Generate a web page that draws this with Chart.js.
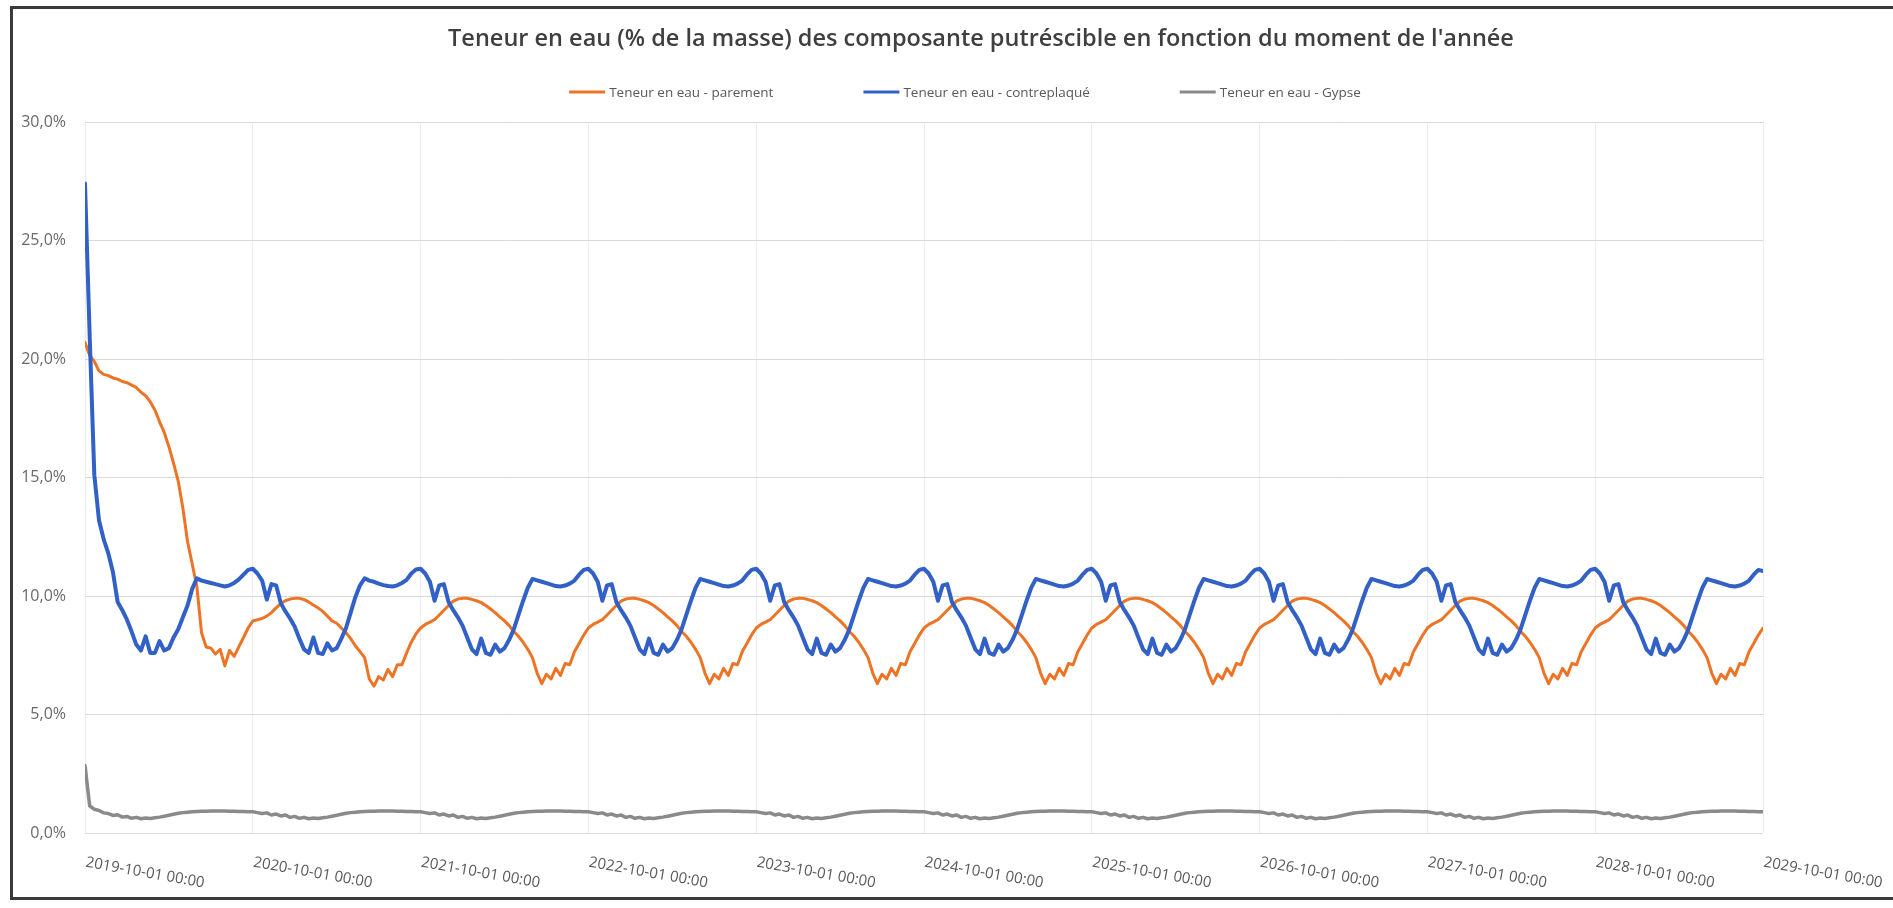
<!DOCTYPE html>
<html lang="fr">
<head>
<meta charset="utf-8">
<title>Teneur en eau des composantes</title>
<script src="https://cdn.jsdelivr.net/npm/chart.js@4.4.1/dist/chart.umd.min.js"></script>
<style>
  html, body { margin: 0; padding: 0; background: #fff; overflow: hidden; }
  #cadre {
    position: absolute; left: 10px; top: 6px; width: 1960px; height: 894px;
    border: 3px solid #3a3a3a; box-sizing: border-box;
  }
  #graphique { position: absolute; left: 0; top: 0; }
</style>
</head>
<body>
<div id="cadre"></div>
<canvas id="graphique" width="1893" height="908"></canvas>
<script>
// 36 relevés par année, du 2019-10-01 au 2029-10-01
const PAS_PAR_AN = 36;

const titre = "Teneur en eau (% de la masse) des composante putréscible en fonction du moment de l'année";
const series = ['Teneur en eau - parement', 'Teneur en eau - contreplaqué', 'Teneur en eau - Gypse'];
const couleurs = ['#EC7424', '#3160C6', '#8A8A8A'];

const etiquettesX = [
  '2019-10-01 00:00', '2020-10-01 00:00', '2021-10-01 00:00', '2022-10-01 00:00',
  '2023-10-01 00:00', '2024-10-01 00:00', '2025-10-01 00:00', '2026-10-01 00:00',
  '2027-10-01 00:00', '2028-10-01 00:00', '2029-10-01 00:00'
];
const etiquettesY = ['0,0%', '5,0%', '10,0%', '15,0%', '20,0%', '25,0%', '30,0%'];

// parement (%), une ligne par année
const parement = [
  20.7, 20.15, 19.9, 19.5, 19.35, 19.3, 19.2, 19.15, 19.05, 19.0, 18.9, 18.8, 18.6, 18.45, 18.2, 17.85, 17.35, 16.9, 16.3, 15.6, 14.85, 13.7, 12.3, 11.35, 10.4, 8.45, 7.85, 7.8, 7.55, 7.75, 7.05, 7.7, 7.45, 7.85, 8.25, 8.65,
  8.95, 9.0, 9.05, 9.15, 9.3, 9.5, 9.68, 9.8, 9.87, 9.9, 9.9, 9.85, 9.75, 9.62, 9.5, 9.35, 9.15, 8.95, 8.85, 8.65, 8.45, 8.2, 7.9, 7.65, 7.4, 6.5, 6.2, 6.6, 6.45, 6.9, 6.6, 7.1, 7.1, 7.6, 8.05, 8.4,
  8.65, 8.8, 8.9, 9.0, 9.2, 9.4, 9.6, 9.78, 9.87, 9.9, 9.9, 9.86, 9.8, 9.72, 9.6, 9.45, 9.3, 9.12, 8.95, 8.75, 8.5, 8.3, 8.05, 7.75, 7.4, 6.75, 6.3, 6.7, 6.5, 6.95, 6.65, 7.15, 7.1, 7.65, 8.0, 8.35,
  8.65, 8.8, 8.9, 9.0, 9.2, 9.4, 9.6, 9.78, 9.87, 9.9, 9.9, 9.86, 9.8, 9.72, 9.6, 9.45, 9.3, 9.12, 8.95, 8.75, 8.5, 8.3, 8.05, 7.75, 7.4, 6.75, 6.3, 6.7, 6.5, 6.95, 6.65, 7.15, 7.1, 7.65, 8.0, 8.35,
  8.65, 8.8, 8.9, 9.0, 9.2, 9.4, 9.6, 9.78, 9.87, 9.9, 9.9, 9.86, 9.8, 9.72, 9.6, 9.45, 9.3, 9.12, 8.95, 8.75, 8.5, 8.3, 8.05, 7.75, 7.4, 6.75, 6.3, 6.7, 6.5, 6.95, 6.65, 7.15, 7.1, 7.65, 8.0, 8.35,
  8.65, 8.8, 8.9, 9.0, 9.2, 9.4, 9.6, 9.78, 9.87, 9.9, 9.9, 9.86, 9.8, 9.72, 9.6, 9.45, 9.3, 9.12, 8.95, 8.75, 8.5, 8.3, 8.05, 7.75, 7.4, 6.75, 6.3, 6.7, 6.5, 6.95, 6.65, 7.15, 7.1, 7.65, 8.0, 8.35,
  8.65, 8.8, 8.9, 9.0, 9.2, 9.4, 9.6, 9.78, 9.87, 9.9, 9.9, 9.86, 9.8, 9.72, 9.6, 9.45, 9.3, 9.12, 8.95, 8.75, 8.5, 8.3, 8.05, 7.75, 7.4, 6.75, 6.3, 6.7, 6.5, 6.95, 6.65, 7.15, 7.1, 7.65, 8.0, 8.35,
  8.65, 8.8, 8.9, 9.0, 9.2, 9.4, 9.6, 9.78, 9.87, 9.9, 9.9, 9.86, 9.8, 9.72, 9.6, 9.45, 9.3, 9.12, 8.95, 8.75, 8.5, 8.3, 8.05, 7.75, 7.4, 6.75, 6.3, 6.7, 6.5, 6.95, 6.65, 7.15, 7.1, 7.65, 8.0, 8.35,
  8.65, 8.8, 8.9, 9.0, 9.2, 9.4, 9.6, 9.78, 9.87, 9.9, 9.9, 9.86, 9.8, 9.72, 9.6, 9.45, 9.3, 9.12, 8.95, 8.75, 8.5, 8.3, 8.05, 7.75, 7.4, 6.75, 6.3, 6.7, 6.5, 6.95, 6.65, 7.15, 7.1, 7.65, 8.0, 8.35,
  8.65, 8.8, 8.9, 9.0, 9.2, 9.4, 9.6, 9.78, 9.87, 9.9, 9.9, 9.86, 9.8, 9.72, 9.6, 9.45, 9.3, 9.12, 8.95, 8.75, 8.5, 8.3, 8.05, 7.75, 7.4, 6.75, 6.3, 6.7, 6.5, 6.95, 6.65, 7.15, 7.1, 7.65, 8.0, 8.35,
  8.65
];

// contreplaqué (%)
const contreplaque = [
  27.4, 21.0, 15.1, 13.2, 12.4, 11.8, 11.0, 9.75, 9.4, 9.0, 8.5, 7.95, 7.7, 8.3, 7.6, 7.6, 8.1, 7.7, 7.8, 8.25, 8.6, 9.1, 9.6, 10.3, 10.75, 10.65, 10.6, 10.55, 10.5, 10.45, 10.4, 10.45, 10.55, 10.7, 10.9, 11.1,
  11.15, 10.95, 10.65, 9.85, 10.5, 10.45, 9.7, 9.35, 9.05, 8.7, 8.2, 7.75, 7.6, 8.25, 7.6, 7.55, 8.0, 7.7, 7.8, 8.2, 8.65, 9.3, 9.95, 10.45, 10.75, 10.65, 10.6, 10.52, 10.46, 10.42, 10.4, 10.45, 10.55, 10.68, 10.95, 11.12,
  11.15, 10.95, 10.6, 9.8, 10.45, 10.5, 9.75, 9.4, 9.1, 8.75, 8.25, 7.75, 7.55, 8.2, 7.6, 7.52, 7.95, 7.65, 7.8, 8.15, 8.6, 9.2, 9.8, 10.35, 10.72, 10.66, 10.6, 10.54, 10.48, 10.42, 10.4, 10.44, 10.52, 10.65, 10.9, 11.1,
  11.15, 10.95, 10.6, 9.8, 10.45, 10.5, 9.75, 9.4, 9.1, 8.75, 8.25, 7.75, 7.55, 8.2, 7.6, 7.52, 7.95, 7.65, 7.8, 8.15, 8.6, 9.2, 9.8, 10.35, 10.72, 10.66, 10.6, 10.54, 10.48, 10.42, 10.4, 10.44, 10.52, 10.65, 10.9, 11.1,
  11.15, 10.95, 10.6, 9.8, 10.45, 10.5, 9.75, 9.4, 9.1, 8.75, 8.25, 7.75, 7.55, 8.2, 7.6, 7.52, 7.95, 7.65, 7.8, 8.15, 8.6, 9.2, 9.8, 10.35, 10.72, 10.66, 10.6, 10.54, 10.48, 10.42, 10.4, 10.44, 10.52, 10.65, 10.9, 11.1,
  11.15, 10.95, 10.6, 9.8, 10.45, 10.5, 9.75, 9.4, 9.1, 8.75, 8.25, 7.75, 7.55, 8.2, 7.6, 7.52, 7.95, 7.65, 7.8, 8.15, 8.6, 9.2, 9.8, 10.35, 10.72, 10.66, 10.6, 10.54, 10.48, 10.42, 10.4, 10.44, 10.52, 10.65, 10.9, 11.1,
  11.15, 10.95, 10.6, 9.8, 10.45, 10.5, 9.75, 9.4, 9.1, 8.75, 8.25, 7.75, 7.55, 8.2, 7.6, 7.52, 7.95, 7.65, 7.8, 8.15, 8.6, 9.2, 9.8, 10.35, 10.72, 10.66, 10.6, 10.54, 10.48, 10.42, 10.4, 10.44, 10.52, 10.65, 10.9, 11.1,
  11.15, 10.95, 10.6, 9.8, 10.45, 10.5, 9.75, 9.4, 9.1, 8.75, 8.25, 7.75, 7.55, 8.2, 7.6, 7.52, 7.95, 7.65, 7.8, 8.15, 8.6, 9.2, 9.8, 10.35, 10.72, 10.66, 10.6, 10.54, 10.48, 10.42, 10.4, 10.44, 10.52, 10.65, 10.9, 11.1,
  11.15, 10.95, 10.6, 9.8, 10.45, 10.5, 9.75, 9.4, 9.1, 8.75, 8.25, 7.75, 7.55, 8.2, 7.6, 7.52, 7.95, 7.65, 7.8, 8.15, 8.6, 9.2, 9.8, 10.35, 10.72, 10.66, 10.6, 10.54, 10.48, 10.42, 10.4, 10.44, 10.52, 10.65, 10.9, 11.1,
  11.15, 10.95, 10.6, 9.8, 10.45, 10.5, 9.75, 9.4, 9.1, 8.75, 8.25, 7.75, 7.55, 8.2, 7.6, 7.52, 7.95, 7.65, 7.8, 8.15, 8.6, 9.2, 9.8, 10.35, 10.72, 10.66, 10.6, 10.54, 10.48, 10.42, 10.4, 10.44, 10.52, 10.65, 10.9, 11.1,
  11.05
];

// gypse (%)
const gypse = [
  2.85, 1.15, 1.0, 0.95, 0.85, 0.82, 0.74, 0.77, 0.67, 0.7, 0.62, 0.66, 0.6, 0.63, 0.61, 0.64, 0.67, 0.71, 0.75, 0.79, 0.83, 0.86, 0.88, 0.9, 0.91, 0.92, 0.92, 0.93, 0.93, 0.93, 0.93, 0.92, 0.92, 0.91, 0.91, 0.9,
  0.9, 0.86, 0.82, 0.85, 0.76, 0.8, 0.72, 0.76, 0.66, 0.7, 0.62, 0.66, 0.6, 0.63, 0.61, 0.64, 0.67, 0.71, 0.75, 0.79, 0.83, 0.86, 0.88, 0.9, 0.91, 0.92, 0.92, 0.93, 0.93, 0.93, 0.93, 0.92, 0.92, 0.91, 0.91, 0.9,
  0.9, 0.86, 0.82, 0.85, 0.76, 0.8, 0.72, 0.76, 0.66, 0.7, 0.62, 0.66, 0.6, 0.63, 0.61, 0.64, 0.67, 0.71, 0.75, 0.79, 0.83, 0.86, 0.88, 0.9, 0.91, 0.92, 0.92, 0.93, 0.93, 0.93, 0.93, 0.92, 0.92, 0.91, 0.91, 0.9,
  0.9, 0.86, 0.82, 0.85, 0.76, 0.8, 0.72, 0.76, 0.66, 0.7, 0.62, 0.66, 0.6, 0.63, 0.61, 0.64, 0.67, 0.71, 0.75, 0.79, 0.83, 0.86, 0.88, 0.9, 0.91, 0.92, 0.92, 0.93, 0.93, 0.93, 0.93, 0.92, 0.92, 0.91, 0.91, 0.9,
  0.9, 0.86, 0.82, 0.85, 0.76, 0.8, 0.72, 0.76, 0.66, 0.7, 0.62, 0.66, 0.6, 0.63, 0.61, 0.64, 0.67, 0.71, 0.75, 0.79, 0.83, 0.86, 0.88, 0.9, 0.91, 0.92, 0.92, 0.93, 0.93, 0.93, 0.93, 0.92, 0.92, 0.91, 0.91, 0.9,
  0.9, 0.86, 0.82, 0.85, 0.76, 0.8, 0.72, 0.76, 0.66, 0.7, 0.62, 0.66, 0.6, 0.63, 0.61, 0.64, 0.67, 0.71, 0.75, 0.79, 0.83, 0.86, 0.88, 0.9, 0.91, 0.92, 0.92, 0.93, 0.93, 0.93, 0.93, 0.92, 0.92, 0.91, 0.91, 0.9,
  0.9, 0.86, 0.82, 0.85, 0.76, 0.8, 0.72, 0.76, 0.66, 0.7, 0.62, 0.66, 0.6, 0.63, 0.61, 0.64, 0.67, 0.71, 0.75, 0.79, 0.83, 0.86, 0.88, 0.9, 0.91, 0.92, 0.92, 0.93, 0.93, 0.93, 0.93, 0.92, 0.92, 0.91, 0.91, 0.9,
  0.9, 0.86, 0.82, 0.85, 0.76, 0.8, 0.72, 0.76, 0.66, 0.7, 0.62, 0.66, 0.6, 0.63, 0.61, 0.64, 0.67, 0.71, 0.75, 0.79, 0.83, 0.86, 0.88, 0.9, 0.91, 0.92, 0.92, 0.93, 0.93, 0.93, 0.93, 0.92, 0.92, 0.91, 0.91, 0.9,
  0.9, 0.86, 0.82, 0.85, 0.76, 0.8, 0.72, 0.76, 0.66, 0.7, 0.62, 0.66, 0.6, 0.63, 0.61, 0.64, 0.67, 0.71, 0.75, 0.79, 0.83, 0.86, 0.88, 0.9, 0.91, 0.92, 0.92, 0.93, 0.93, 0.93, 0.93, 0.92, 0.92, 0.91, 0.91, 0.9,
  0.9, 0.86, 0.82, 0.85, 0.76, 0.8, 0.72, 0.76, 0.66, 0.7, 0.62, 0.66, 0.6, 0.63, 0.61, 0.64, 0.67, 0.71, 0.75, 0.79, 0.83, 0.86, 0.88, 0.9, 0.91, 0.92, 0.92, 0.93, 0.93, 0.93, 0.93, 0.92, 0.92, 0.91, 0.91, 0.9,
  0.9
];

const valeurs = [parement, contreplaque, gypse];
const epaisseurs = [3, 4, 3.5];
const ordres = [2, 1, 3];   // le contreplaqué passe par-dessus le parement

function enPoints(serie) {
  return serie.map((v, i) => ({ x: i / PAS_PAR_AN, y: v }));
}

// titre + légende dessinés à la main (centrés sur le cadre complet, pas sur la zone du graphe)
const titreEtLegende = {
  id: 'titreEtLegende',
  afterDraw(chart) {
    const ctx = chart.ctx;
    ctx.save();
    ctx.fillStyle = '#3f3f3f';
    ctx.font = '600 23.5px "Open Sans"';
    ctx.textAlign = 'center';
    ctx.textBaseline = 'middle';
    ctx.fillText(titre, 981, 39);

    ctx.font = '13.5px "Open Sans"';
    ctx.textAlign = 'left';
    const trait = 36, ecart = 4, espace = 90;
    const largeurs = series.map(s => trait + ecart + ctx.measureText(s).width);
    const total = largeurs.reduce((a, b) => a + b, 0) + espace * (series.length - 1);
    let x = 965 - total / 2;
    const y = 92;
    series.forEach((nom, i) => {
      ctx.strokeStyle = couleurs[i];
      ctx.lineWidth = 3;
      ctx.beginPath();
      ctx.moveTo(x, y);
      ctx.lineTo(x + trait, y);
      ctx.stroke();
      ctx.fillStyle = '#595959';
      ctx.fillText(nom, x + trait + ecart, y + 1);
      x += largeurs[i] + espace;
    });
    ctx.restore();
  }
};

// étiquettes de dates inclinées vers le bas, ancrées à gauche sur chaque graduation
const etiquettesAxeX = {
  id: 'etiquettesAxeX',
  afterDraw(chart) {
    const { ctx, scales: { x } } = chart;
    ctx.save();
    ctx.font = '15px "Open Sans"';
    ctx.fillStyle = '#595959';
    ctx.textAlign = 'left';
    ctx.textBaseline = 'top';
    etiquettesX.forEach((txt, i) => {
      ctx.save();
      ctx.translate(x.getPixelForValue(i) + 2, x.top + 22);
      ctx.rotate(10 * Math.PI / 180);
      ctx.fillText(txt, 0, 0);
      ctx.restore();
    });
    ctx.restore();
  }
};

new Chart(document.getElementById('graphique'), {
  type: 'line',
  data: {
    datasets: series.map((nom, i) => ({
      label: nom,
      data: enPoints(valeurs[i]),
      borderColor: couleurs[i],
      backgroundColor: couleurs[i],
      borderWidth: epaisseurs[i],
      order: ordres[i],
      pointRadius: 0,
      tension: 0,
      borderJoinStyle: 'round',
      borderCapStyle: 'round'
    }))
  },
  options: {
    responsive: false,
    animation: false,
    devicePixelRatio: 1,
    layout: { padding: { top: 122, right: 130, bottom: 0, left: 0 } },
    plugins: {
      legend: { display: false },
      title: { display: false },
      tooltip: { enabled: false }
    },
    scales: {
      x: {
        type: 'linear',
        min: 0,
        max: 10,
        ticks: { stepSize: 1, display: false },
        grid: { color: '#ececec', drawTicks: false },
        border: { display: false },
        afterFit(s) { s.height = 75; }
      },
      y: {
        min: 0,
        max: 30,
        ticks: {
          stepSize: 5,
          padding: 19,
          color: '#6a6a6a',
          font: { family: '"Open Sans"', size: 16 },
          callback: (v, i) => etiquettesY[i]
        },
        grid: { color: '#d9d9d9', drawTicks: false },
        border: { display: false },
        afterFit(s) { s.width = 85; }
      }
    }
  },
  plugins: [titreEtLegende, etiquettesAxeX]
});
</script>
</body>
</html>
